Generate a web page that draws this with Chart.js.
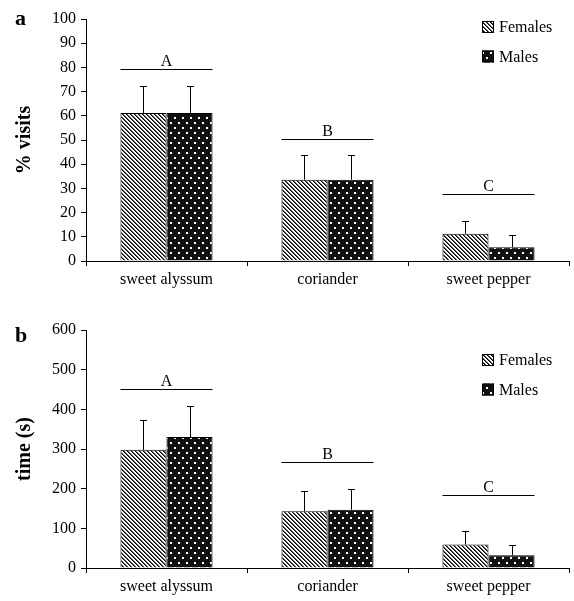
<!DOCTYPE html>
<html>
<head>
<meta charset="utf-8">
<script src="https://cdn.jsdelivr.net/npm/chart.js@4.4.1/dist/chart.umd.min.js"></script>
<style>
    html, body { margin: 0; padding: 0; background: #fff; }
    canvas { display: block; }
</style>
</head>
<body>
<canvas id="visits-chart" width="574" height="300"></canvas>
<canvas id="time-chart" width="574" height="301"></canvas>
<script>
const categories = ['sweet alyssum', 'coriander', 'sweet pepper'];
const seriesNames = ['Females', 'Males'];

// panel a: % visits
const visitsFemales = [61.2, 33.6, 11.3];
const visitsMales = [61.2, 33.6, 5.7];
const visitsFemalesErr = [11.1, 10.1, 5.2];
const visitsMalesErr = [11.1, 10.1, 5.0];
const visitsTicks = [0, 10, 20, 30, 40, 50, 60, 70, 80, 90, 100];
const visitsLetters = ['A', 'B', 'C'];
const visitsLetterLines = [79.2, 50.6, 27.8];

// panel b: time (s)
const timeFemales = [298, 143, 59];
const timeMales = [330, 147, 32];
const timeFemalesErr = [75, 51, 34];
const timeMalesErr = [78, 52, 25];
const timeTicks = [0, 100, 200, 300, 400, 500, 600];
const timeLetters = ['A', 'B', 'C'];
const timeLetterLines = [452, 266, 184];

const SERIF = "'Liberation Serif', 'Times New Roman', serif";
Chart.defaults.font.family = SERIF;
Chart.defaults.font.size = 16;
Chart.defaults.color = '#000';

function makeHatch() {
    const c = document.createElement('canvas');
    c.width = 4; c.height = 4;
    const g = c.getContext('2d');
    g.fillStyle = '#fff';
    g.fillRect(0, 0, 4, 4);
    for (let i = 0; i < 4; i++) {
        g.fillStyle = '#000';
        g.fillRect(i, i, 1, 1);
        g.fillStyle = '#555';
        g.fillRect((i + 1) % 4, i, 1, 1);
    }
    return g.createPattern(c, 'repeat');
}

function makeDots() {
    const c = document.createElement('canvas');
    c.width = 8; c.height = 10;
    const g = c.getContext('2d');
    g.fillStyle = '#111';
    g.fillRect(0, 0, 8, 10);
    g.fillStyle = '#fff';
    g.fillRect(2, 2, 2, 2);
    g.fillRect(6, 7, 2, 2);
    return g.createPattern(c, 'repeat');
}

const hatch = makeHatch();
const dots = makeDots();

// error bars, group letters, legend and panel letter
const annotatePlugin = {
    id: 'annotate',
    afterDatasetsDraw(chart, args, opts) {
        const ctx = chart.ctx;
        const yScale = chart.scales.y;
        const area = chart.chartArea;
        ctx.save();
        ctx.strokeStyle = '#000';
        ctx.lineWidth = 1;

        chart.data.datasets.forEach((ds, i) => {
            chart.getDatasetMeta(i).data.forEach((bar, j) => {
                const top = Math.round(yScale.getPixelForValue(ds.data[j] + ds.errors[j])) + 0.5;
                const x = Math.round(bar.x) + 0.5;
                ctx.beginPath();
                ctx.moveTo(x, bar.y);
                ctx.lineTo(x, top);
                ctx.moveTo(x - 3.5, top);
                ctx.lineTo(x + 3.5, top);
                ctx.stroke();
            });
        });

        const first = chart.getDatasetMeta(0).data;
        const last = chart.getDatasetMeta(chart.data.datasets.length - 1).data;
        ctx.fillStyle = '#000';
        ctx.font = '16px ' + SERIF;
        ctx.textAlign = 'center';
        ctx.textBaseline = 'alphabetic';
        opts.letters.forEach((letter, j) => {
            const x0 = first[j].x - first[j].width / 2;
            const x1 = last[j].x + last[j].width / 2;
            const ly = Math.round(yScale.getPixelForValue(opts.lines[j])) + 0.5;
            ctx.beginPath();
            ctx.moveTo(x0, ly);
            ctx.lineTo(x1, ly);
            ctx.stroke();
            ctx.fillText(letter, (x0 + x1) / 2, ly - 4);
        });

        // legend
        ctx.textAlign = 'left';
        ctx.textBaseline = 'middle';
        chart.data.datasets.forEach((ds, i) => {
            const bx = opts.legendX;
            const by = area.top + opts.legendTop + i * 29.5;
            ctx.fillStyle = ds.backgroundColor;
            ctx.fillRect(bx, by - 6, 12, 12);
            ctx.strokeRect(bx + 0.5, by - 5.5, 11, 11);
            ctx.fillStyle = '#000';
            ctx.fillText(ds.label, bx + 17, by + 1);
        });

        // panel letter
        ctx.font = 'bold 22px ' + SERIF;
        ctx.textBaseline = 'alphabetic';
        ctx.fillText(opts.panel, 15, opts.panelY);
        ctx.restore();
    }
};

function buildChart(id, cfg) {
    const canvas = document.getElementById(id);
    const axisGrid = { drawOnChartArea: false, tickLength: 5, color: '#000', lineWidth: 1 };
    return new Chart(canvas, {
        type: 'bar',
        data: {
            labels: categories,
            datasets: [{
                label: seriesNames[0],
                data: cfg.females,
                errors: cfg.femalesErr,
                backgroundColor: hatch,
                borderColor: '#000',
                borderWidth: 1
            }, {
                label: seriesNames[1],
                data: cfg.males,
                errors: cfg.malesErr,
                backgroundColor: dots,
                borderColor: '#000',
                borderWidth: 1
            }]
        },
        options: {
            responsive: false,
            animation: false,
            layout: { padding: { top: cfg.top, right: 5, left: 0, bottom: 0 } },
            datasets: { bar: { categoryPercentage: 0.572, barPercentage: 1 } },
            plugins: {
                legend: { display: false },
                tooltip: { enabled: false },
                annotate: {
                    letters: cfg.letters,
                    lines: cfg.lines,
                    legendX: 482,
                    legendTop: cfg.legendTop,
                    panel: cfg.panel,
                    panelY: cfg.panelY
                }
            },
            scales: {
                x: {
                    grid: axisGrid,
                    border: { color: '#000' },
                    ticks: { padding: 4, maxRotation: 0, autoSkip: false },
                    afterFit: scale => { scale.height = canvas.height - cfg.bottom; }
                },
                y: {
                    min: 0,
                    max: cfg.ticks[cfg.ticks.length - 1],
                    afterBuildTicks: scale => { scale.ticks = cfg.ticks.map(v => ({ value: v })); },
                    grid: axisGrid,
                    border: { color: '#000' },
                    ticks: { padding: 5 },
                    title: {
                        display: true,
                        text: cfg.title,
                        font: { size: 20, weight: 'bold' },
                        padding: { top: 13, bottom: 0 }
                    },
                    afterFit: scale => { scale.width = 86; }
                }
            }
        },
        plugins: [annotatePlugin]
    });
}

buildChart('visits-chart', {
    females: visitsFemales, males: visitsMales,
    femalesErr: visitsFemalesErr, malesErr: visitsMalesErr,
    ticks: visitsTicks, letters: visitsLetters, lines: visitsLetterLines,
    title: '% visits', panel: 'a', panelY: 25,
    top: 19, bottom: 261, legendTop: 8
});

buildChart('time-chart', {
    females: timeFemales, males: timeMales,
    femalesErr: timeFemalesErr, malesErr: timeMalesErr,
    ticks: timeTicks, letters: timeLetters, lines: timeLetterLines,
    title: 'time (s)', panel: 'b', panelY: 42,
    top: 30, bottom: 268, legendTop: 30
});
</script>
</body>
</html>
